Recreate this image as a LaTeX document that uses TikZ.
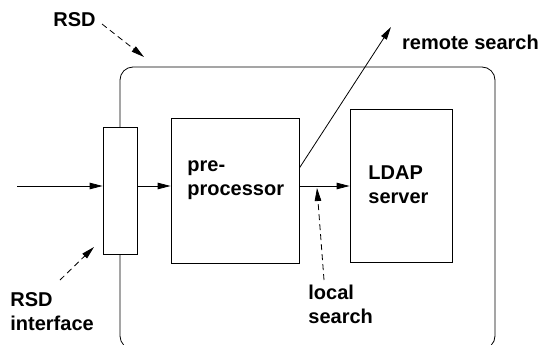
\documentclass[tikz,border=0pt]{standalone}
\usepackage{fontspec}
\setmainfont{Liberation Sans}
\usetikzlibrary{arrows.meta}

\begin{document}
\begin{tikzpicture}[
  x = 1pt, y = -1pt, line width = 0.8pt,
  every node/.style = {font = \fontsize{20}{24}\selectfont\bfseries,
    inner sep = 0pt, align = left},
  box/.style = {draw, rectangle, fill = white},
  arr/.style = {-{Triangle[length = 13pt, width = 6.5pt]}},
  hint/.style = {arr, dash pattern = on 6pt off 4pt}
]
\useasboundingbox (0,0) rectangle (543,345);
\clip (0,0) rectangle (543,345);

% RSD frame
\draw[rounded corners = 13pt] (120,67) rectangle (495,349);

% boxes
\node[box, minimum width = 34pt, minimum height = 127pt] (iface) at (120,190.5) {};
\node[box, minimum width = 128pt, minimum height = 145pt] (pre) at (235,190.5) {};
\node[box, minimum width = 102pt, minimum height = 153pt] (ldap) at (401,185.5) {};

% texts (base = last line)
\node[anchor = base west] (pretxt) at (187,195) {pre-\\processor};
\node[anchor = base west] (ldaptxt) at (368,203) {LDAP\\server};
\node[anchor = base west] (rsd) at (53,26.7) {RSD};
\node[anchor = base west] (rsdif) at (10,330) {RSD\\interface};
\node[anchor = base west] (local) at (308,323) {local\\search};
\node[anchor = base west] (remote) at (401.7,49.3) {remote search};

% connectors
\coordinate (in) at (17,186);
\coordinate (out) at (391,27);
\draw[arr] (in) -- (in -| iface.west);
\draw[arr] (in -| iface.east) -- (in -| pre.west);
\draw[arr] (in -| pre.east) -- (in -| ldap.west);
\draw[arr] ([yshift = 22.5pt]pre.east) -- (out);

% hints
\coordinate (rsdfrom) at (102,24);
\coordinate (rsdto) at (144,57);
\coordinate (iffrom) at (60,280);
\coordinate (ifto) at (94,247);
\coordinate (locfrom) at (324,280);
\coordinate (locto) at (317,188);
\draw[hint] (rsdfrom) -- (rsdto);
\draw[hint] (iffrom) -- (ifto);
\draw[hint] (locfrom) -- (locto);

\end{tikzpicture}
\end{document}
